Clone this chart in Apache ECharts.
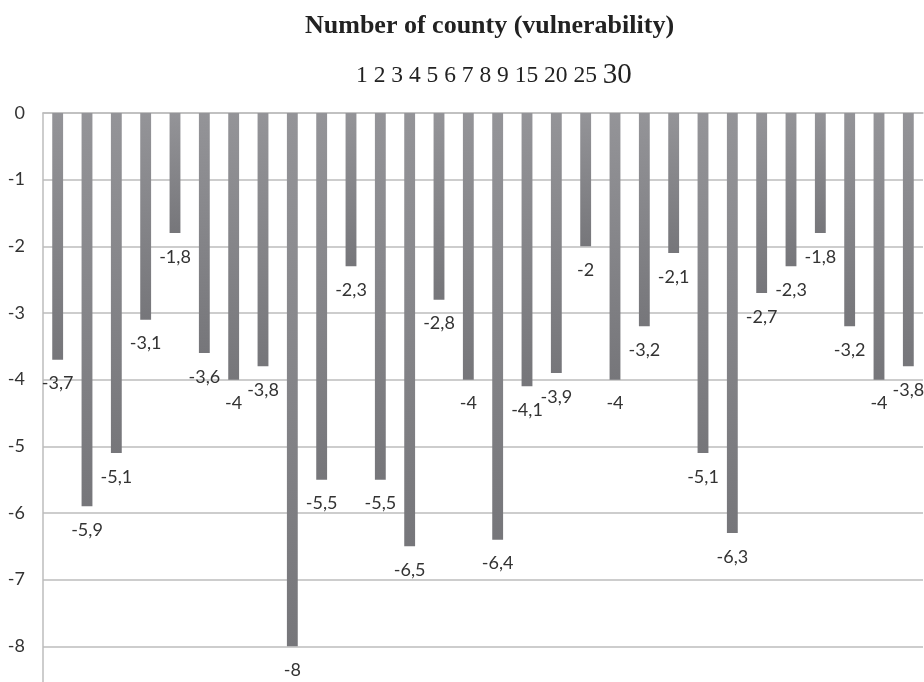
<!DOCTYPE html>
<html>
<head>
<meta charset="utf-8">
<script src="https://cdn.jsdelivr.net/npm/echarts@6/dist/echarts.min.js"></script>
<style>
  html, body { margin: 0; padding: 0; background: #fff; }
  #main { width: 924px; height: 682px; }
</style>
</head>
<body>
<div id="main"></div>
<script>
  // county numbers 1..30
  const counties = ['1', '2', '3', '4', '5', '6', '7', '8', '9', '10',
    '11', '12', '13', '14', '15', '16', '17', '18', '19', '20',
    '21', '22', '23', '24', '25', '26', '27', '28', '29', '30'];
  // vulnerability per county
  const vulnerability = [-3.7, -5.9, -5.1, -3.1, -1.8, -3.6, -4, -3.8, -8, -5.5,
    -2.3, -5.5, -6.5, -2.8, -4, -6.4, -4.1, -3.9, -2, -4,
    -3.2, -2.1, -5.1, -6.3, -2.7, -2.3, -1.8, -3.2, -4, -3.8];
  const legendNumbers = ['1', '2', '3', '4', '5', '6', '7', '8', '9', '15', '20', '25'];
  const legendLast = '30';

  const chart = echarts.init(document.getElementById('main'));

  chart.setOption({
    animation: false,
    title: [{
      text: 'Number of county (vulnerability)',
      left: 300,
      top: 8,
      textStyle: {
        fontFamily: 'Liberation Serif',
        fontWeight: 'bold',
        fontSize: 26,
        color: '#222'
      }
    }, {
      text: '{s|' + legendNumbers.join(' ') + ' }{b|' + legendLast + '}',
      left: 351,
      top: 56,
      textStyle: {
        fontWeight: 'normal',
        rich: {
          s: { fontFamily: 'Liberation Serif', fontWeight: 'normal', fontSize: 23.5, color: '#222' },
          b: { fontFamily: 'Liberation Serif', fontWeight: 'normal', fontSize: 29, color: '#222' }
        }
      }
    }],
    grid: {
      left: 43,
      right: 1,
      top: 113,
      height: 600,
      outerBoundsMode: 'none'
    },
    xAxis: {
      type: 'category',
      data: counties,
      position: 'top',
      axisLine: { show: true, lineStyle: { color: '#bdbdbd', width: 1.5 } },
      axisTick: { show: false },
      axisLabel: { show: false }
    },
    yAxis: {
      type: 'value',
      min: -9,
      max: 0,
      interval: 1,
      axisLine: { show: true, lineStyle: { color: '#bdbdbd', width: 1.5 } },
      axisTick: { show: false },
      splitLine: { lineStyle: { color: '#bdbdbd', width: 1.5 } },
      axisLabel: {
        margin: 18,
        fontFamily: 'Lato',
        fontSize: 18,
        color: '#333'
      }
    },
    series: [{
      type: 'bar',
      data: vulnerability,
      barWidth: '37%',
      itemStyle: {
        color: new echarts.graphic.LinearGradient(0, 0, 0, 1, [
          { offset: 0, color: '#949498' },
          { offset: 1, color: '#76767a' }
        ])
      },
      label: {
        show: true,
        position: 'bottom',
        distance: 15,
        fontFamily: 'Lato',
        fontSize: 18,
        color: '#333',
        formatter: function (p) {
          return String(p.value).replace('.', ',');
        }
      }
    }]
  });
</script>
</body>
</html>
